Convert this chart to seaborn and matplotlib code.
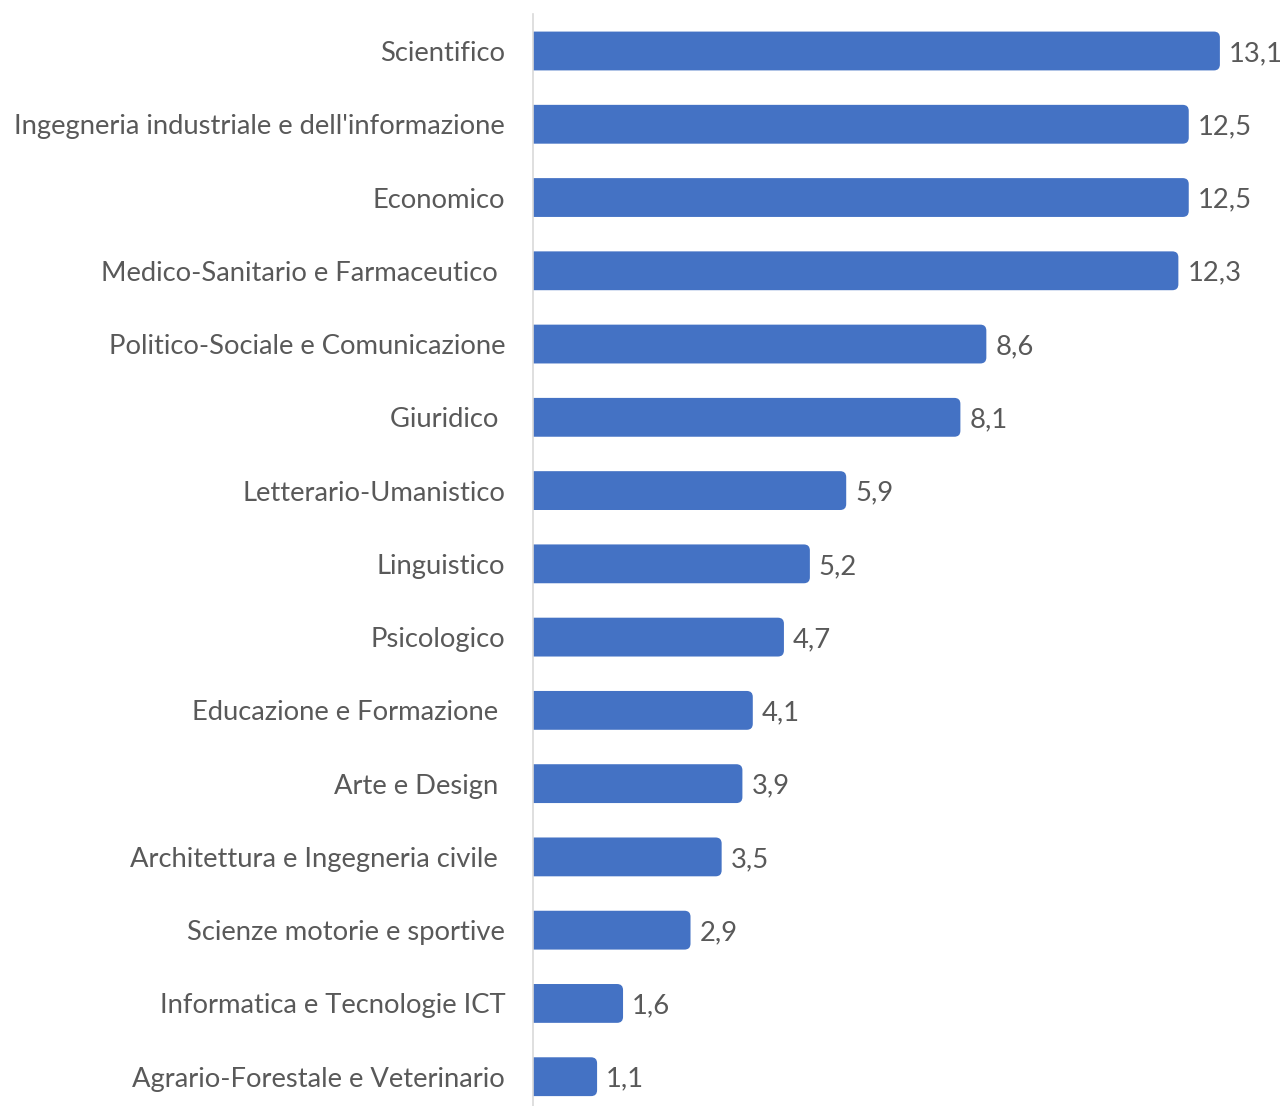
import numpy as np
import pandas as pd
import matplotlib
matplotlib.use("Agg")
import matplotlib.pyplot as plt
from matplotlib.patches import FancyBboxPatch
import seaborn as sns

# dati
categorie = [
    "Scientifico",
    "Ingegneria industriale e dell'informazione",
    "Economico",
    "Medico-Sanitario e Farmaceutico ",
    "Politico-Sociale e Comunicazione",
    "Giuridico ",
    "Letterario-Umanistico",
    "Linguistico",
    "Psicologico",
    "Educazione e Formazione ",
    "Arte e Design ",
    "Architettura e Ingegneria civile ",
    "Scienze motorie e sportive",
    "Informatica e Tecnologie ICT",
    "Agrario-Forestale e Veterinario",
]
valori = [13.1, 12.5, 12.5, 12.3, 8.6, 8.1, 5.9, 5.2, 4.7, 4.1, 3.9, 3.5, 2.9, 1.6, 1.1]

df = pd.DataFrame({"area": categorie, "valore": valori})

BLU = "#4472C4"
GRIGIO = "#595959"
FS = 19.7

sns.set_theme(style="white")
plt.rcParams["font.family"] = ["Lato", "DejaVu Sans"]

W, H = 1282, 1106
fig = plt.figure(figsize=(W / 100, H / 100), dpi=100)
px_x = 51.9   # pixel per unità
left = 533
ax = fig.add_axes([left / W, 0, (W - left) / W, (H - 14) / H])

sns.barplot(data=df, x="valore", y="area", color=BLU, width=0.53,
            orient="h", ax=ax, saturation=1)

ax.set_xlim(0, (W - left) / px_x)
ax.set_ylim(14.40, -0.505)

# barre con estremità destra arrotondata
cap = 7 / px_x
r = 6 / px_x
aspect = px_x / 73.3
for p in list(ax.patches):
    x0, y0 = p.get_x(), p.get_y()
    w, h = p.get_width(), p.get_height()
    p.remove()
    fb = FancyBboxPatch((x0 - 0.5, y0), w + 0.5 + cap, h,
                        boxstyle=f"round,pad=0,rounding_size={r}",
                        mutation_aspect=aspect, facecolor=BLU,
                        edgecolor="none", clip_on=True)
    ax.add_patch(fb)
    ax.annotate(f"{w:.1f}".replace(".", ","), xy=(w + cap, y0 + h / 2),
                xytext=(6.5, -1.8), textcoords="offset points",
                va="center", ha="left", fontsize=FS, color=GRIGIO)

ax.set_xlabel("")
ax.set_ylabel("")
ax.set_xticks([])
ax.tick_params(axis="y", length=0, pad=20, labelsize=FS, labelcolor=GRIGIO)
for s in ["top", "right", "bottom"]:
    ax.spines[s].set_visible(False)
ax.spines["left"].set_color("#D9D9D9")
ax.spines["left"].set_linewidth(1.2)

fig.savefig("out.png", dpi=100)
